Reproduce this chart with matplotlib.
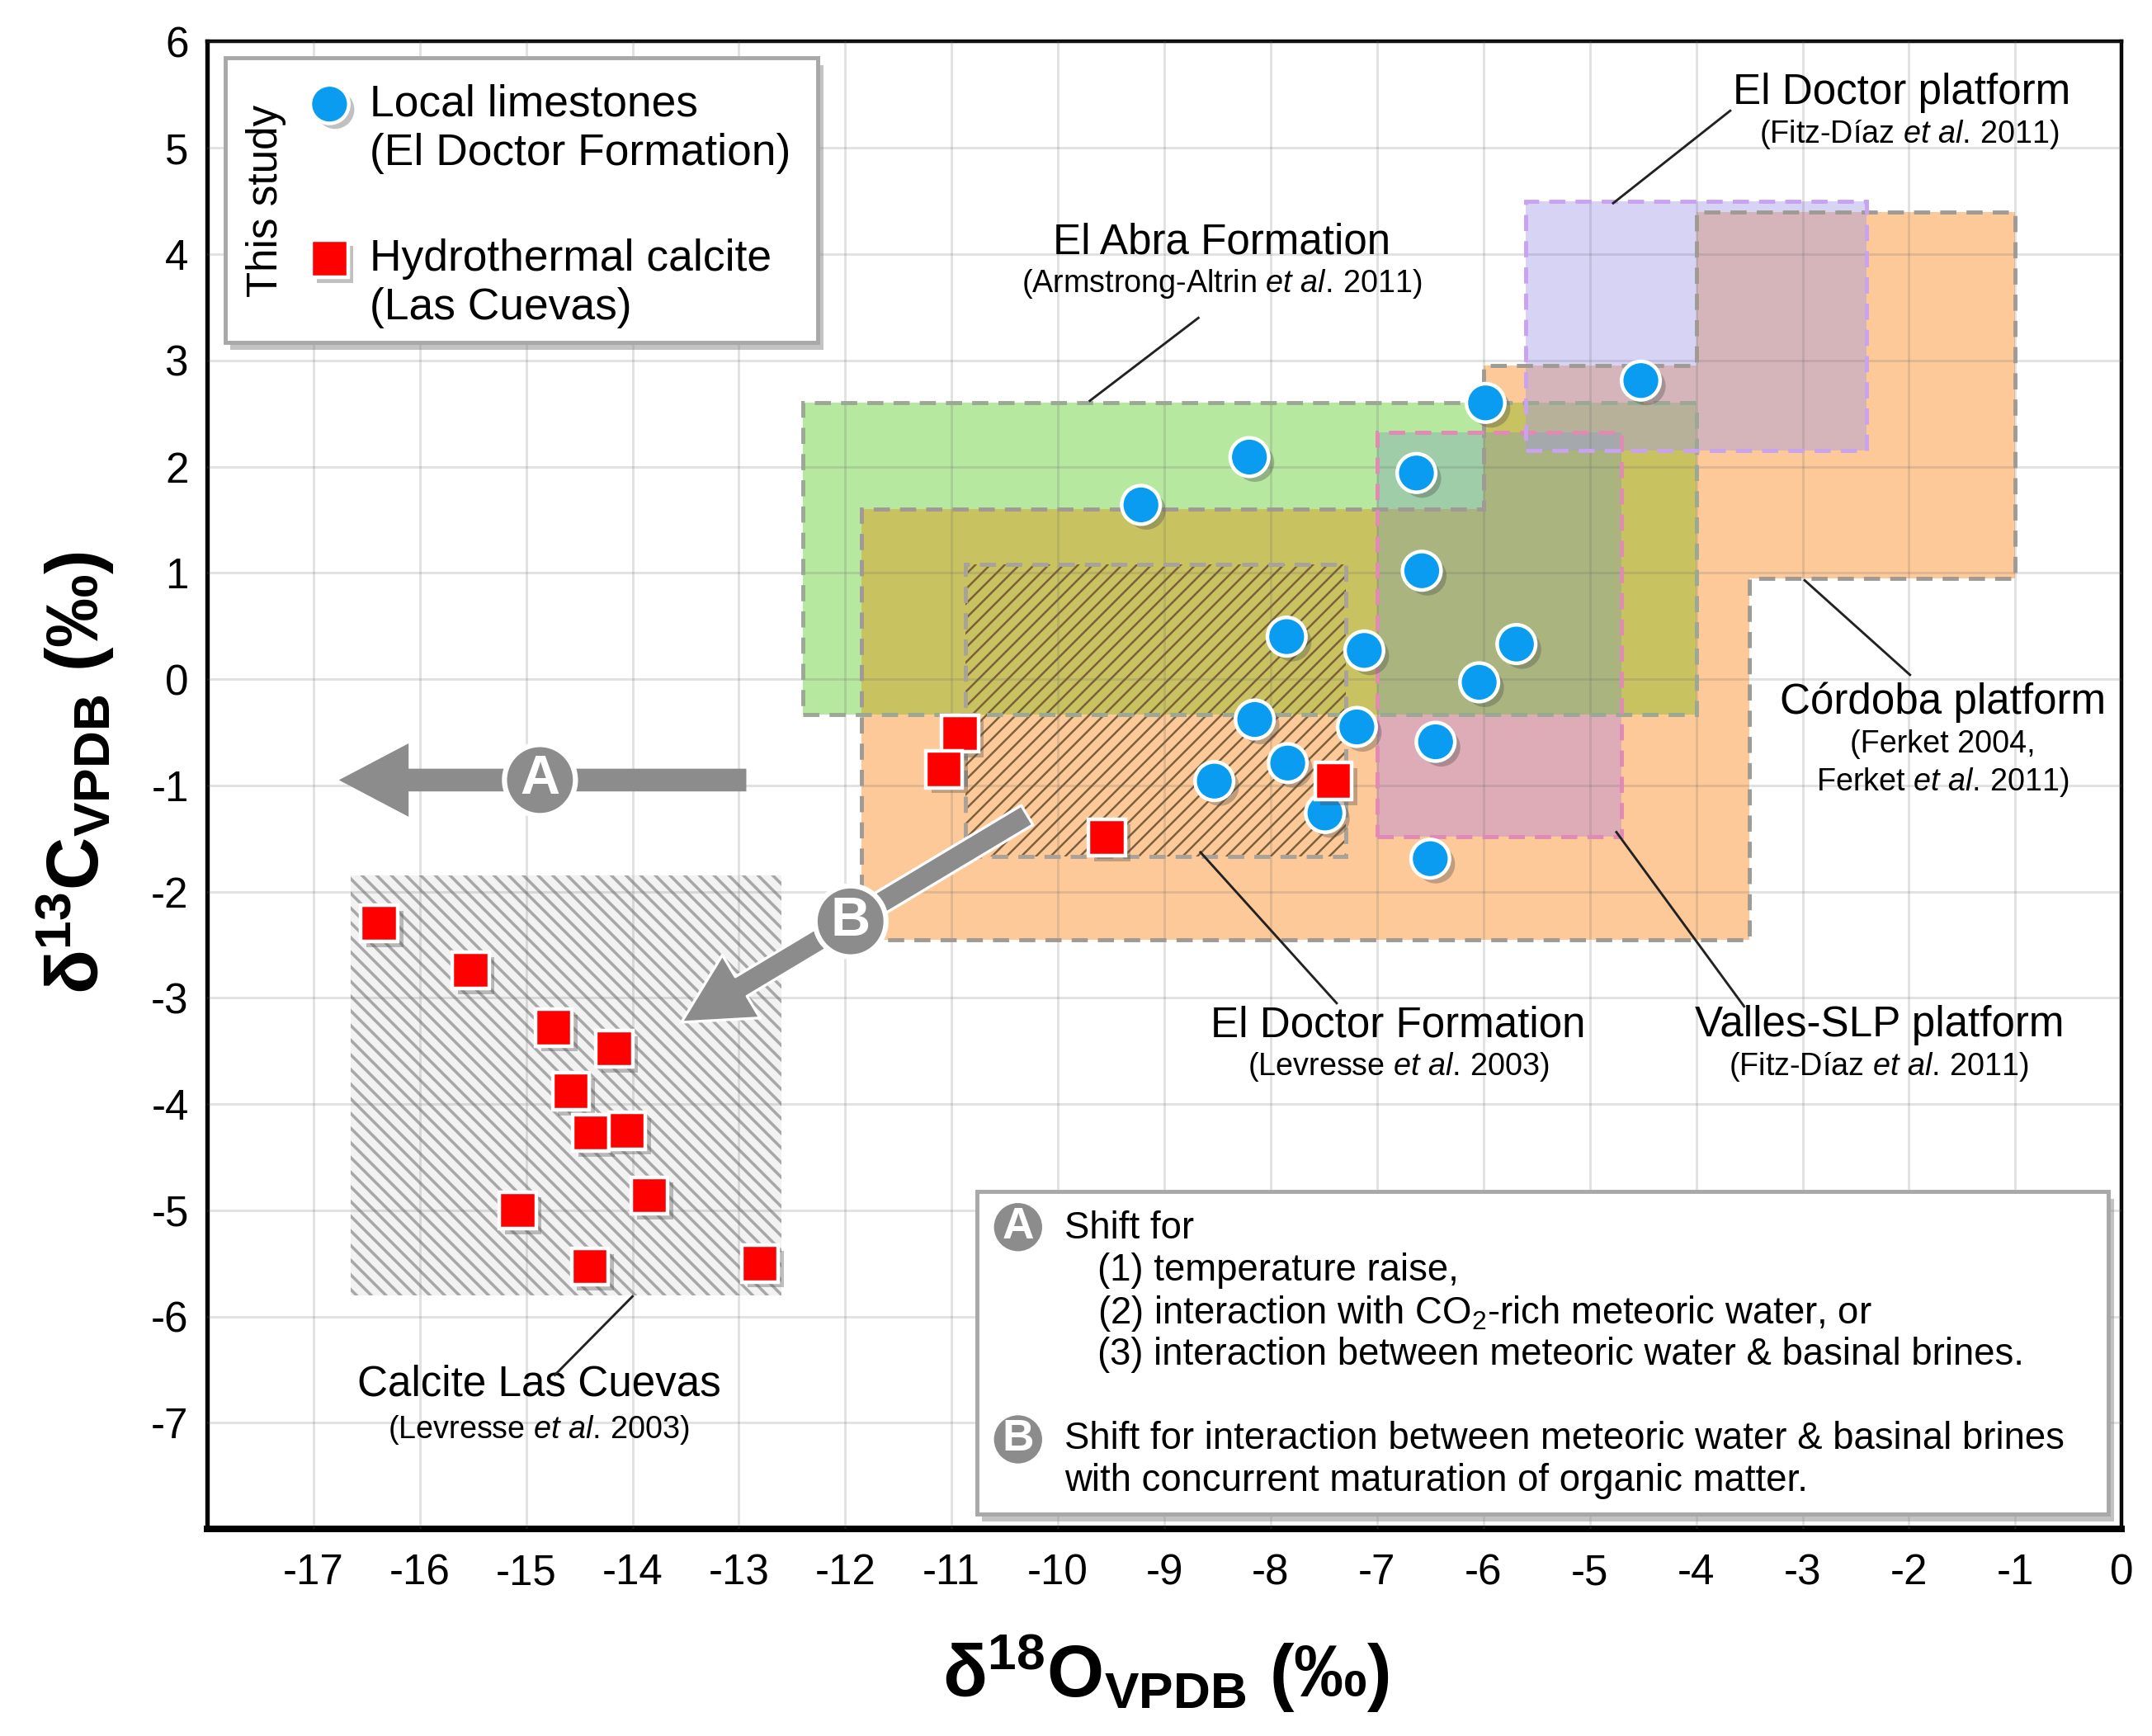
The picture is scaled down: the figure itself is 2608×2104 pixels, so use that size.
import matplotlib
matplotlib.use('Agg')
import matplotlib.pyplot as plt
import matplotlib.patheffects as pe
from matplotlib.patches import Rectangle, Polygon, FancyArrowPatch
import numpy as np

plt.rcParams['font.family'] = ['Liberation Sans', 'DejaVu Sans']
plt.rcParams['mathtext.fontset'] = 'custom'
plt.rcParams['mathtext.rm'] = 'Liberation Sans'
plt.rcParams['mathtext.it'] = 'Liberation Sans:italic'
plt.rcParams['mathtext.bf'] = 'Liberation Sans:bold'
plt.rcParams['mathtext.default'] = 'regular'
plt.rcParams['axes.unicode_minus'] = False

# --- this study: points ---
lime_d18O = [-4.52, -5.98, -8.2, -6.63, -9.22, -6.58, -7.85, -7.12, -5.69, -6.04,
             -8.15, -7.19, -6.45, -7.84, -8.53, -7.49, -6.5]
lime_d13C = [2.81, 2.6, 2.09, 1.94, 1.64, 1.02, 0.4, 0.27, 0.33, -0.03,
             -0.38, -0.45, -0.59, -0.79, -0.96, -1.26, -1.69]

calc_d18O = [-10.92, -11.07, -7.41, -9.54, -16.38, -15.52, -14.74, -14.17, -14.58,
             -14.39, -14.05, -13.84, -15.08, -14.4, -12.8]
calc_d13C = [-0.51, -0.85, -0.96, -1.49, -2.3, -2.74, -3.28, -3.48, -3.88,
             -4.27, -4.25, -4.86, -5.0, -5.53, -5.5]

# --- literature fields ---
cordoba_x = [-11.85, -3.5, -3.5, -1.0, -1.0, -4.0, -4.0, -6.0, -6.0, -11.85]
cordoba_y = [-2.45, -2.45, 0.95, 0.95, 4.4, 4.4, 2.95, 2.95, 1.6, 1.6]
abra_box = [-12.4, -4.0, -0.33, 2.6]          # x0, x1, y0, y1
doctor_plat_box = [-5.6, -2.4, 2.15, 4.5]
valles_box = [-7.0, -4.7, -1.48, 2.32]
doctor_fm_box = [-10.87, -7.29, -1.67, 1.08]
cuevas_box = [-16.65, -12.6, -5.8, -1.85]

xticks = list(range(-17, 1))
yticks = list(range(-7, 7))

# --- figure ---
fig = plt.figure(figsize=(16.3, 13.15), dpi=160)
ax = fig.add_axes([0.0962, 0.1192, 0.8897, 0.8568])
ax.set_xlim(-18, 0)
ax.set_ylim(-8, 6)
ax.set_xticks(xticks)
ax.set_yticks(yticks)
ax.tick_params(length=0, labelsize=23)
ax.tick_params(axis='x', pad=13)
ax.tick_params(axis='y', pad=10)
ax.set_axisbelow(False)
ax.grid(True, color=(0.42, 0.42, 0.42), alpha=0.2, lw=1.3)
for side, lw in [('left', 2.4), ('top', 2.0), ('right', 2.0), ('bottom', 3.6)]:
    ax.spines[side].set_linewidth(lw)
    ax.spines[side].set_color('black')


def box_xy(b):
    return (b[0], b[2]), b[1] - b[0], b[3] - b[2]


def rgb(r, g, b, a=1.0):
    return (r / 255, g / 255, b / 255, a)


# fills (overlaps imitate the multiplied colours of the original)
cordoba_pts = np.column_stack([cordoba_x, cordoba_y])
cordoba_fill = Polygon(cordoba_pts, closed=True, fc=rgb(253, 201, 152), lw=0, zorder=1)
ax.add_patch(cordoba_fill)

xy, w, h = box_xy(valles_box)
ax.add_patch(Rectangle(xy, w, h, fc=rgb(221, 172, 182), lw=0, zorder=1.1))

xy, w, h = box_xy(abra_box)
abra_fill = Rectangle(xy, w, h, fc=rgb(183, 232, 160), lw=0, zorder=1.2)
ax.add_patch(abra_fill)
abra_on_cordoba = Rectangle(xy, w, h, fc=rgb(201, 194, 96), lw=0, zorder=1.3)
ax.add_patch(abra_on_cordoba)
abra_on_cordoba.set_clip_path(cordoba_fill)

xy, w, h = box_xy(valles_box)
valles_on_abra = Rectangle(xy, w, h, fc=rgb(112, 155, 183, 0.35), lw=0, zorder=1.4)
ax.add_patch(valles_on_abra)
valles_on_abra.set_clip_path(abra_fill)

xy, w, h = box_xy(doctor_plat_box)
ax.add_patch(Rectangle(xy, w, h, fc=rgb(162, 155, 232, 0.43), lw=0, zorder=1.5))

plt.rcParams['hatch.linewidth'] = 1.1
xy, w, h = box_xy(doctor_fm_box)
ax.add_patch(Rectangle(xy, w, h, fill=False, hatch='///', ec='#7a5f3a', lw=0, zorder=2))
plt.rcParams['hatch.linewidth'] = 1.6
xy, w, h = box_xy(cuevas_box)
ax.add_patch(Rectangle(xy, w, h, fc='#f2f2f2', hatch='\\\\\\', ec='#a8a8a8', lw=0, zorder=2))

# dashed outlines
dash = (0, (4, 2.5))
ax.add_patch(Polygon(cordoba_pts, closed=True, fill=False, ec='#a09a94', lw=2.2, ls=dash, zorder=3))
for b, col in [(abra_box, '#9aa894'), (doctor_fm_box, '#a8a29a'),
               (valles_box, '#e08ab4'), (doctor_plat_box, '#c9a2f0')]:
    xy, w, h = box_xy(b)
    ax.add_patch(Rectangle(xy, w, h, fill=False, ec=col, lw=2.2, ls=dash, zorder=3))

# --- field labels with leader lines ---
cite_fs = 17
etal = '$\\mathit{et\\ al.}\\,$'
labels = [
    ('El Doctor platform', ['(Fitz-Díaz ' + etal + '2011)'], (-2.07, 5.52), (-2.0, 5.13),
     [(-4.78, 4.48), (-3.68, 5.35)]),
    ('El Abra Formation', ['(Armstrong-Altrin ' + etal + '2011)'], (-8.46, 4.11), (-8.46, 3.72),
     [(-9.7, 2.62), (-8.68, 3.4)]),
    ('Córdoba platform', ['(Ferket 2004,', 'Ferket ' + etal + '2011)'], (-1.68, -0.22), (-1.68, -0.61),
     [(-2.98, 0.93), (-1.99, 0.04)]),
    ('El Doctor Formation', ['(Levresse ' + etal + '2003)'], (-6.8, -3.26), (-6.8, -3.65),
     [(-8.66, -1.63), (-7.38, -3.05)]),
    ('Valles-SLP platform', ['(Fitz-Díaz ' + etal + '2011)'], (-2.28, -3.26), (-2.28, -3.65),
     [(-4.75, -1.44), (-3.55, -3.08)]),
    ('Calcite Las Cuevas', ['(Levresse ' + etal + '2003)'], (-14.88, -6.64), (-14.88, -7.07),
     [(-14.0, -5.81), (-14.73, -6.55)]),
]
for name, cites, pos, cpos, line in labels:
    ax.text(pos[0], pos[1], name, fontsize=23, ha='center', va='center', zorder=5)
    for k, cite in enumerate(cites):
        ax.text(cpos[0], cpos[1] - 0.36 * k, cite, fontsize=cite_fs, ha='center', va='center', zorder=5)
    (x0, y0), (x1, y1) = line
    ax.plot([x0, x1], [y0, y1], color='#222222', lw=1.3, zorder=5)

# --- shift arrows ---
arrow_gray = '#8c8c8c'
arrA = FancyArrowPatch((-12.93, -0.95), (-16.76, -0.95),
                       arrowstyle='simple,head_length=1.9,head_width=2.0,tail_width=0.62',
                       mutation_scale=20, fc=arrow_gray, ec='none', shrinkA=0, shrinkB=0, zorder=4)
ax.add_patch(arrA)
arrB = FancyArrowPatch((-10.29, -1.28), (-13.54, -3.23),
                       arrowstyle='simple,head_length=1.9,head_width=2.0,tail_width=0.62',
                       mutation_scale=20, fc=arrow_gray, ec='white', lw=1.5, shrinkA=0, shrinkB=0, zorder=4)
ax.add_patch(arrB)
for letter, (cx, cy) in [('A', (-14.87, -0.95)), ('B', (-11.95, -2.28))]:
    ax.text(cx, cy, letter, fontsize=30, fontweight='bold', color='white', ha='center', va='center',
            zorder=4.5, bbox=dict(boxstyle='circle,pad=0.18', fc=arrow_gray, ec='white', lw=2.8))

# --- data points ---
shadow = [pe.SimplePatchShadow(offset=(3, -3), shadow_rgbFace='0.3', alpha=0.35), pe.Normal()]
ax.plot(lime_d18O, lime_d13C, 'o', ms=21, mfc='#0a9cf0', mec='white', mew=2, ls='none',
        zorder=6, path_effects=shadow)
ax.plot(calc_d18O, calc_d13C, 's', ms=20, mfc='#ff0000', mec='white', mew=2, ls='none',
        zorder=6.5, path_effects=shadow)

# --- legend box (this study) ---
box_fx = [pe.SimplePatchShadow(offset=(3, -4), shadow_rgbFace='#888888', alpha=0.5), pe.Normal()]
ax.add_patch(Rectangle((0.0094, 0.798), 0.3096, 0.191, transform=ax.transAxes, fc='white',
                       ec='#a8a8a8', lw=2.2, zorder=7, path_effects=box_fx))
ax.text(0.031, 0.893, 'This study', rotation=90, fontsize=23, ha='center', va='center',
        transform=ax.transAxes, zorder=8)
ax.plot([0.064], [0.958], 'o', ms=21, mfc='#0a9cf0', mec='white', mew=2, transform=ax.transAxes,
        clip_on=False, zorder=8, path_effects=shadow)
ax.plot([0.064], [0.854], 's', ms=20, mfc='#ff0000', mec='white', mew=2, transform=ax.transAxes,
        clip_on=False, zorder=8, path_effects=shadow)
ax.text(0.085, 0.958, 'Local limestones', fontsize=24, va='center', transform=ax.transAxes, zorder=8)
ax.text(0.085, 0.925, '(El Doctor Formation)', fontsize=24, va='center', transform=ax.transAxes, zorder=8)
ax.text(0.085, 0.854, 'Hydrothermal calcite', fontsize=24, va='center', transform=ax.transAxes, zorder=8)
ax.text(0.085, 0.821, '(Las Cuevas)', fontsize=24, va='center', transform=ax.transAxes, zorder=8)

# --- notes box ---
ax.add_patch(Rectangle((0.402, 0.0102), 0.591, 0.2168, transform=ax.transAxes, fc='white',
                       ec='#a8a8a8', lw=2.2, zorder=7, path_effects=box_fx))
note_fs = 20.5
for letter, (cx, cy) in [('A', (0.4236, 0.203)), ('B', (0.4236, 0.0603))]:
    ax.text(cx, cy, letter, fontsize=24, fontweight='bold', color='white', ha='center', va='center',
            transform=ax.transAxes, zorder=8,
            bbox=dict(boxstyle='circle,pad=0.12', fc=arrow_gray, ec='white', lw=2))
notes = [
    (0.448, 0.202, 'Shift for'),
    (0.465, 0.174, '(1) temperature raise,'),
    (0.465, 0.1447, '(2) interaction with CO$_2$-rich meteoric water, or'),
    (0.465, 0.1169, '(3) interaction between meteoric water & basinal brines.'),
    (0.448, 0.0603, 'Shift for interaction between meteoric water & basinal brines'),
    (0.448, 0.0325, 'with concurrent maturation of organic matter.'),
]
for nx, ny, s in notes:
    ax.text(nx, ny, s, fontsize=note_fs, va='center', transform=ax.transAxes, zorder=8)

# --- axis titles ---
fig.text(0.035, 0.555, 'δ$^{13}$C$_{VPDB}$ (‰)', rotation=90, fontsize=40, fontweight='bold',
         ha='center', va='center')
fig.text(0.5417, 0.036, 'δ$^{18}$O$_{VPDB}$ (‰)', fontsize=40, fontweight='bold',
         ha='center', va='center')

fig.savefig('out.png', dpi=160)
